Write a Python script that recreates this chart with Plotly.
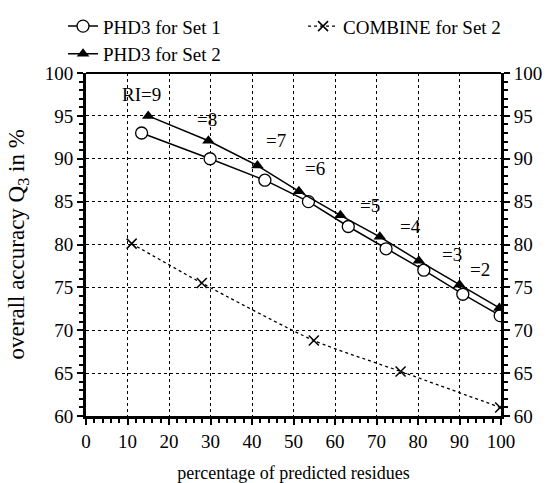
import plotly.graph_objects as go

# Data
set1_x = [13.4, 29.9, 43.1, 53.6, 63.2, 72.3, 81.4, 90.8, 99.8]
set1_y = [93.0, 90.0, 87.5, 85.0, 82.1, 79.5, 77.0, 74.2, 71.7]

set2_x = [15.0, 29.5, 41.3, 51.3, 61.3, 70.8, 80.2, 90.0, 99.6]
set2_y = [95.0, 92.1, 89.2, 86.2, 83.4, 80.9, 78.1, 75.3, 72.6]

comb_x = [11.0, 27.9, 54.9, 75.8, 99.8]
comb_y = [80.1, 75.5, 68.8, 65.2, 61.0]

ri_labels = ["RI=9", "=8", "=7", "=6", "=5", "=4", "=3", "=2"]
ri_x = [13.4, 29.1, 45.9, 55.2, 68.4, 78.1, 88.1, 94.9]
ri_y = [97.5, 94.6, 92.1, 88.9, 84.6, 82.1, 78.8, 77.1]

x_ticks = list(range(0, 101, 10))
y_ticks = list(range(60, 101, 5))

FONT = "Liberation Serif"

fig = go.Figure()
fig.add_trace(go.Scatter(
    x=set1_x, y=set1_y, mode="lines+markers", name="PHD3 for Set 1",
    line=dict(color="black", width=1.5), legend="legend",
    marker=dict(symbol="circle", size=12, color="white",
                line=dict(color="black", width=1.3)),
))
fig.add_trace(go.Scatter(
    x=comb_x, y=comb_y, mode="lines+markers", name="COMBINE for Set 2",
    line=dict(color="black", width=1.3, dash="dot", shape="spline", smoothing=0.6),
    legend="legend2",
    marker=dict(symbol="x-thin", size=10, color="black",
                line=dict(color="black", width=1.5)),
))
fig.add_trace(go.Scatter(
    x=set2_x, y=set2_y, mode="lines+markers", name="PHD3 for Set 2",
    line=dict(color="black", width=1.5), legend="legend",
    marker=dict(symbol="triangle-up", size=11, color="black"),
))
# invisible trace to activate right axis
fig.add_trace(go.Scatter(
    x=set1_x, y=set1_y, yaxis="y2", mode="markers", showlegend=False,
    marker=dict(opacity=0), hoverinfo="skip",
))

for t, xx, yy in zip(ri_labels, ri_x, ri_y):
    fig.add_annotation(x=xx, y=yy, text=t, showarrow=False,
                       font=dict(family=FONT, size=19, color="black"))

# y axis title
fig.add_annotation(x=-0.164, y=0.5, xref="paper", yref="paper",
                   text="overall accuracy Q<sub>3</sub> in %", textangle=-90,
                   showarrow=False, xanchor="center", yanchor="middle",
                   font=dict(family=FONT, size=23, color="black"))

axis_common = dict(
    showline=True, linecolor="black", linewidth=3,
    ticks="outside", ticklen=6, tickwidth=1.5, tickcolor="black",
    tickfont=dict(family=FONT, size=19, color="black"),
    zeroline=False,
)

legend_common = dict(
    orientation="v", xref="container", yref="container",
    xanchor="left", yanchor="top", tracegroupgap=0,
    font=dict(family=FONT, size=19, color="black"),
    bgcolor="rgba(0,0,0,0)",
)

fig.update_layout(
    width=548, height=483,
    margin=dict(l=86, r=47, t=73, b=67, autoexpand=False),
    paper_bgcolor="white", plot_bgcolor="white",
    font=dict(family=FONT, color="black"),
    showlegend=True,
    legend=dict(x=0.115, y=0.985, **legend_common),
    legend2=dict(x=0.553, y=0.985, **legend_common),
    xaxis=dict(
        range=[0, 100], tickvals=x_ticks, **axis_common,
        showgrid=True, gridcolor="black", griddash="dot", gridwidth=1,
        minor=dict(dtick=2, ticks="outside", ticklen=4, tickcolor="black", showgrid=False),
        title=dict(text="percentage of predicted residues",
                   font=dict(family=FONT, size=18, color="black"), standoff=19),
    ),
    yaxis=dict(
        range=[60, 100], tickvals=y_ticks, **axis_common,
        showgrid=True, gridcolor="black", griddash="dot", gridwidth=1,
        minor=dict(dtick=1, ticks="outside", ticklen=4, tickcolor="black", showgrid=False),
    ),
    yaxis2=dict(
        range=[60, 100], tickvals=y_ticks, overlaying="y", side="right",
        showgrid=False, **axis_common,
        minor=dict(dtick=1, ticks="outside", ticklen=4, tickcolor="black"),
    ),
)

# thin top border
fig.add_shape(type="line", xref="paper", yref="paper", x0=0, x1=1, y0=1, y1=1,
              line=dict(color="black", width=2))

fig.write_html("out.html")
